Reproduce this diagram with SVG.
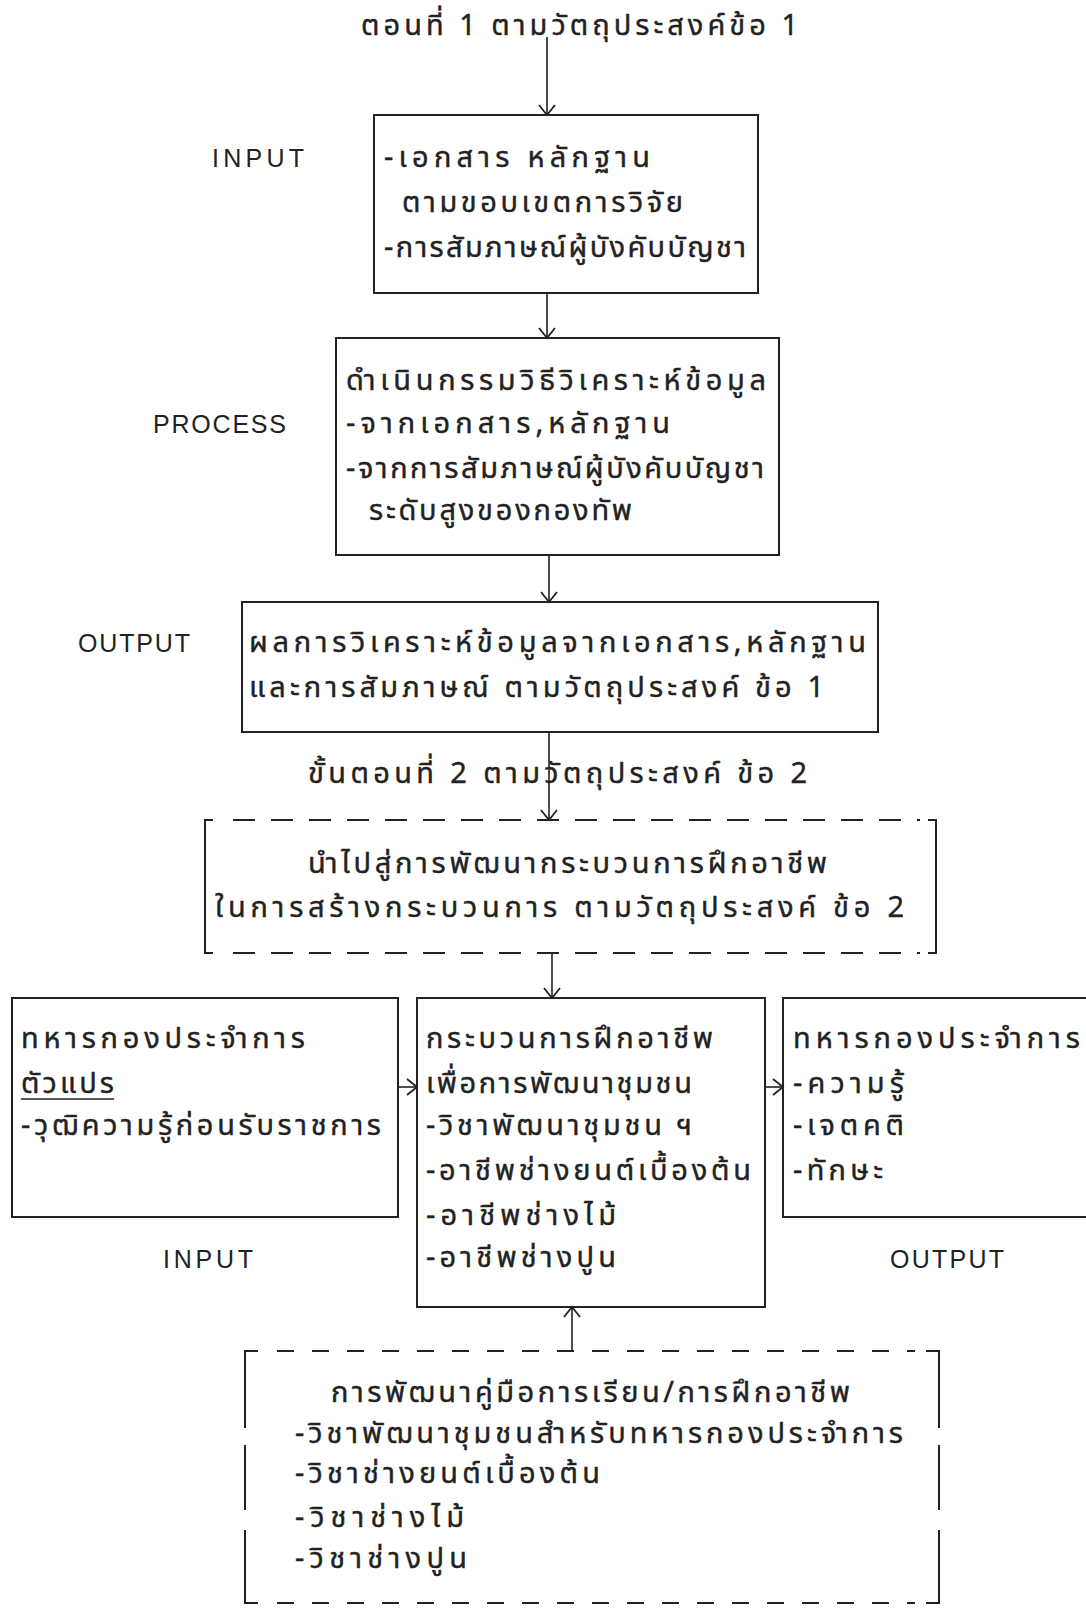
<svg xmlns="http://www.w3.org/2000/svg" width="1086" height="1608" viewBox="0 0 1086 1608">
<style>
.th{font-family:"Noto Sans Thai","Noto Sans",sans-serif;font-size:29px;fill:#222;stroke:#222;stroke-width:0.4}
.en{font-family:"Liberation Sans","DejaVu Sans",sans-serif;font-size:25px;fill:#222}
.box{fill:none;stroke:#222;stroke-width:2}
.dash{fill:none;stroke:#222;stroke-width:2}
.conn{fill:none;stroke:#222;stroke-width:1.6}
</style>
<defs>
<marker id="ah" viewBox="-11 -9 13 18" markerWidth="13" markerHeight="18" refX="0" refY="0" orient="auto" markerUnits="userSpaceOnUse">
<path d="M-10,-8 L0,0 L-10,8" fill="none" stroke="#222" stroke-width="1.8"/>
</marker>
</defs>
<rect width="1086" height="1608" fill="#fff"/>

<g id="title">
<text class="th" x="361" y="35" textLength="437" lengthAdjust="spacing">ตอนที่ 1 ตามวัตถุประสงค์ข้อ 1</text>
</g>

<g id="labels">
<text class="en" x="212" y="167" textLength="92" lengthAdjust="spacing">INPUT</text>
<text class="en" x="153" y="433" textLength="133" lengthAdjust="spacing">PROCESS</text>
<text class="en" x="78" y="652" textLength="112" lengthAdjust="spacing">OUTPUT</text>
<text class="th" x="308" y="783" textLength="499" lengthAdjust="spacing">ขั้นตอนที่ 2 ตามวัตถุประสงค์ ข้อ 2</text>
<text class="en" x="163" y="1268" textLength="90" lengthAdjust="spacing">INPUT</text>
<text class="en" x="890" y="1268" textLength="114" lengthAdjust="spacing">OUTPUT</text>
</g>

<g id="input1">
<rect class="box" x="374" y="115" width="384" height="178"/>
<text class="th" x="384" y="167" textLength="266" lengthAdjust="spacing">-เอกสาร หลักฐาน</text>
<text class="th" x="402" y="212" textLength="281" lengthAdjust="spacing">ตามขอบเขตการวิจัย</text>
<text class="th" x="384" y="257" textLength="362" lengthAdjust="spacing">-การสัมภาษณ์ผู้บังคับบัญชา</text>
</g>

<g id="process1">
<rect class="box" x="336" y="338" width="443" height="217"/>
<text class="th" x="346" y="390" textLength="420" lengthAdjust="spacing">ดำเนินกรรมวิธีวิเคราะห์ข้อมูล</text>
<text class="th" x="346" y="433" textLength="324" lengthAdjust="spacing">-จากเอกสาร,หลักฐาน</text>
<text class="th" x="346" y="478" textLength="418" lengthAdjust="spacing">-จากการสัมภาษณ์ผู้บังคับบัญชา</text>
<text class="th" x="369" y="520" textLength="263" lengthAdjust="spacing">ระดับสูงของกองทัพ</text>
</g>

<g id="output1">
<rect class="box" x="242" y="602" width="636" height="130"/>
<text class="th" x="249" y="652" textLength="617" lengthAdjust="spacing">ผลการวิเคราะห์ข้อมูลจากเอกสาร,หลักฐาน</text>
<text class="th" x="249" y="697" textLength="575" lengthAdjust="spacing">และการสัมภาษณ์ ตามวัตถุประสงค์ ข้อ 1</text>
</g>

<g id="develop">
<path class="dash" d="M213,820 H205 V953 H213 M928,820 H936 V953 H928"/>
<path class="dash" d="M233,820 H920 M233,953 H920" stroke-dasharray="22 16"/>
<text class="th" x="308" y="873" textLength="519" lengthAdjust="spacing">นำไปสู่การพัฒนากระบวนการฝึกอาชีพ</text>
<text class="th" x="215" y="917" textLength="689" lengthAdjust="spacing">ในการสร้างกระบวนการ ตามวัตถุประสงค์ ข้อ 2</text>
</g>

<g id="input2">
<rect class="box" x="12" y="998" width="386" height="219"/>
<text class="th" x="21" y="1048" textLength="284" lengthAdjust="spacing">ทหารกองประจำการ</text>
<text class="th" x="21" y="1093" textLength="93" lengthAdjust="spacing">ตัวแปร</text>
<line x1="21" y1="1099" x2="114" y2="1099" stroke="#222" stroke-width="1.6"/>
<text class="th" x="21" y="1135" textLength="360" lengthAdjust="spacing">-วุฒิความรู้ก่อนรับราชการ</text>
</g>

<g id="process2">
<rect class="box" x="417" y="998" width="348" height="309"/>
<text class="th" x="426" y="1048" textLength="287" lengthAdjust="spacing">กระบวนการฝึกอาชีพ</text>
<text class="th" x="426" y="1093" textLength="266" lengthAdjust="spacing">เพื่อการพัฒนาชุมชน</text>
<text class="th" x="426" y="1135" textLength="266" lengthAdjust="spacing">-วิชาพัฒนาชุมชน ฯ</text>
<text class="th" x="426" y="1180" textLength="325" lengthAdjust="spacing">-อาชีพช่างยนต์เบื้องต้น</text>
<text class="th" x="426" y="1225" textLength="190" lengthAdjust="spacing">-อาชีพช่างไม้</text>
<text class="th" x="426" y="1267" textLength="190" lengthAdjust="spacing">-อาชีพช่างปูน</text>
</g>

<g id="output2">
<path class="box" d="M1090,998 H783 V1217 H1090"/>
<text class="th" x="793" y="1048" textLength="287" lengthAdjust="spacing">ทหารกองประจำการ</text>
<text class="th" x="793" y="1093" textLength="111" lengthAdjust="spacing">-ความรู้</text>
<text class="th" x="793" y="1135" textLength="111" lengthAdjust="spacing">-เจตคติ</text>
<text class="th" x="793" y="1180" textLength="90" lengthAdjust="spacing">-ทักษะ</text>
</g>

<g id="manual">
<path class="dash" d="M258,1351 H245 V1428 M245,1445 V1510 M245,1530 V1603 H258 M926,1351 H939 V1428 M939,1445 V1510 M939,1530 V1603 H926"/>
<path class="dash" d="M277,1351 H915" stroke-dasharray="17 18"/>
<path class="dash" d="M277,1603 H915" stroke-dasharray="17 18" stroke-width="3"/>
<text class="th" x="331" y="1402" textLength="519" lengthAdjust="spacing">การพัฒนาคู่มือการเรียน/การฝึกอาชีพ</text>
<text class="th" x="295" y="1443" textLength="608" lengthAdjust="spacing">-วิชาพัฒนาชุมชนสำหรับทหารกองประจำการ</text>
<text class="th" x="295" y="1483" textLength="305" lengthAdjust="spacing">-วิชาช่างยนต์เบื้องต้น</text>
<text class="th" x="295" y="1527" textLength="169" lengthAdjust="spacing">-วิชาช่างไม้</text>
<text class="th" x="295" y="1568" textLength="172" lengthAdjust="spacing">-วิชาช่างปูน</text>
</g>

<g id="connectors">
<line class="conn" x1="547" y1="37" x2="547" y2="115" marker-end="url(#ah)"/>
<line class="conn" x1="547" y1="293" x2="547" y2="338" marker-end="url(#ah)"/>
<line class="conn" x1="549" y1="555" x2="549" y2="602" marker-end="url(#ah)"/>
<line class="conn" x1="549" y1="732" x2="549" y2="820" marker-end="url(#ah)"/>
<line class="conn" x1="552" y1="953" x2="552" y2="998" marker-end="url(#ah)"/>
<line class="conn" x1="398" y1="1087" x2="417" y2="1087" marker-end="url(#ah)"/>
<line class="conn" x1="765" y1="1087" x2="783" y2="1087" marker-end="url(#ah)"/>
<line class="conn" x1="572" y1="1351" x2="572" y2="1307" marker-end="url(#ah)"/>
</g>
</svg>
